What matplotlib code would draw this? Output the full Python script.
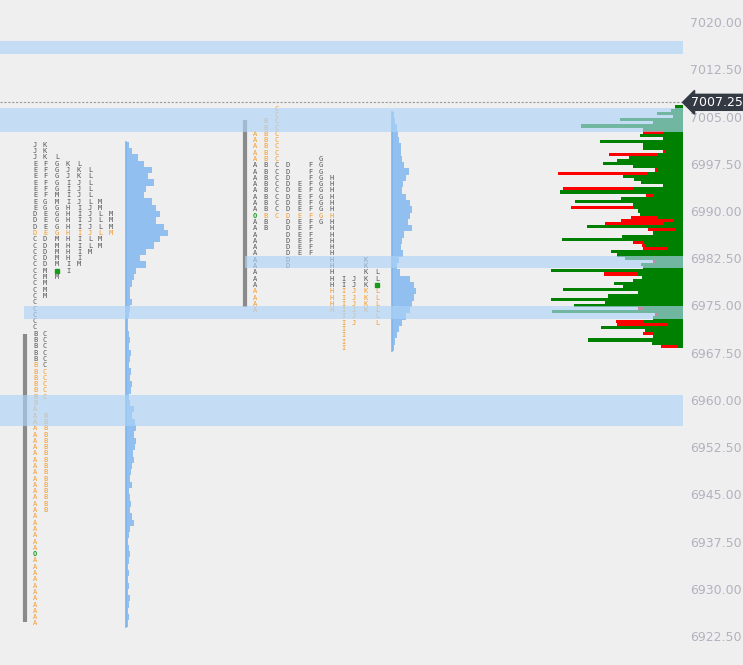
import numpy as np
import matplotlib
matplotlib.use('Agg')
import matplotlib.pyplot as plt

BG = '#efefef'
Y_TOP, Y_BOT = 7023.5, 6917.9
X_MAX = 683
TICKS = [7020.0, 7012.5, 7005.0, 6997.5, 6990.0, 6982.5, 6975.0, 6967.5,
         6960.0, 6952.5, 6945.0, 6937.5, 6930.0, 6922.5]
LAST_PRICE = 7007.25

# highlighted price bands: (low, high, x start)
BANDS = [(7014.9, 7017.0, 0), (7002.5, 7006.35, 0), (6981.0, 6982.9, 245),
         (6972.9, 6974.9, 24), (6955.9, 6960.8, 0)]

# TPO columns (x, first row, letters); lowercase = orange, 'o' = green ring, '*' = green dot
S1_TOP = 7000.5
S1_COLS = [
    (35, 0, "JJJ" + "E" * 8 + "DDD" + "d" + "C" * 15 + "B" * 5 + "b" * 7 + "a" * 23 + "o" + "a" * 11),
    (45, 0, "KKKFFFFFFGGEEEeDDDDDMMMMM" + "     " + "CCCCCC" + "ccccc" + "  " + "b" * 16),
    (57, 2, "LGGGGGMMGGGG" + "g" + "MMMMM*M"),
    (68, 3, "KJJIIIIHHHH" + "h" + "HHHHII"),
    (79, 3, "LKKJJJJIIII" + "i" + "IIIIM"),
    (90, 4, "LLLLLLJJJJ" + "j" + "LLM"),
    (100, 9, "MMLLL" + "l" + "MM"),
    (111, 11, "MMM" + "m"),
]
S2_TOP = 7006.25
S2_COLS = [
    (255, 4, "aaaaa" + "A" * 8 + "o" + "A" * 11 + "aaaa"),
    (266, 2, "bbbbbbb" + "B" * 8 + "b" + "BB"),
    (277, 0, "c" * 9 + "C" * 8 + "c"),
    (288, 9, "D" * 8 + "d" + "D" * 8),
    (299, 12, "E" * 5 + "e" + "E" * 6),
    (310, 9, "F" * 8 + "f" + "F" * 6),
    (321, 8, "G" * 9 + "g" + "G"),
    (332, 11, "H" * 6 + "h" + "H" * 11 + "hhhh"),
    (343, 27, "II" + "i" * 10),
    (354, 27, "JJ" + "j" * 6),
    (366, 24, "K" * 5 + "kkkk"),
    (377, 26, "LL*" + "l" * 6),
]

# session range bars (x, low, high)
RANGE_BARS = [(25, 6924.8, 6970.5), (245, 6974.7, 7004.4)]

# session profiles (1-point rows, widths in px)
S1_PROF_X = 126
S1_PROF = [3, 6, 12, 18, 26, 22, 28, 20, 18, 26, 30, 34, 30, 38, 42, 34, 28, 20, 14, 20,
           10, 8, 6, 4, 4, 6, 4, 3, 2,
           2, 3, 4, 3, 5, 4, 3, 5, 4, 6, 5, 3, 4, 8, 6, 9, 10, 8, 10, 9, 7, 8, 6, 5, 4,
           6, 3, 4, 5, 4, 6, 8, 4, 3, 2, 3, 4, 3, 2, 3, 2, 3, 2, 4, 3, 2, 3, 2]
S2_PROF_X = 392
S2_PROF_TOP = 7005.25
S2_PROF = [2, 3, 5, 6, 7, 9, 9, 10, 12, 17, 14, 11, 10, 14, 18, 20, 18, 16, 20, 12,
           10, 9, 11, 7, 5, 8, 18, 22, 24, 22, 20, 18, 14, 10, 7, 5, 3, 2]

# volume profile on the right (0.5-point rows from top): long bar length/colour
VP_TOP = 7006.5
VP_LEN = [8, 12, 26, 10, 63, 30, 102, 40, 40, 43, 20, 83, 40, 40, 20, 74, 54, 66, 80, 50,
          28, 125, 60, 49, 42, 20, 120, 123, 37, 62, 108, 50, 112, 45, 43, 52, 62, 78, 96, 35,
          30, 61, 121, 50, 41, 40, 72, 66, 58, 30, 42, 40, 132, 79, 41, 50, 69, 60, 120, 45,
          75, 132, 78, 109, 45, 131, 28, 30, 67, 66, 82, 38, 40, 30, 95, 31, 22]
VP_COL = ("gggggggg" "rggggg" "rrggggrrggggrgrgggrg" "grrrgrgggrrrgggrgggrggggggggggrgrgrrggrgg" "gr")
# green part near the base of the red rows
VP_GREEN = [6, 10, 20, 8, 25, 28, 35, 30, 20, 30, 18, 45, 30, 35, 18, 25, 35, 45, 40, 35,
            25, 35, 40, 40, 35, 18, 50, 30, 30, 20, 45, 40, 50, 15, 38, 25, 10, 20, 45, 8,
            28, 45, 20, 40, 38, 15, 10, 12, 40, 28, 0, 38, 45, 45, 20, 45, 40, 45, 50, 40,
            45, 50, 45, 50, 40, 0, 25, 18, 40, 15, 10, 35, 30, 10, 40, 28, 5]

fig = plt.figure(figsize=(7.43, 6.65), dpi=100)
fig.patch.set_facecolor(BG)
ax = fig.add_axes([0, 0, X_MAX / 743, 1])
ax.set_facecolor(BG)
ax.set_xlim(0, X_MAX)
ax.set_ylim(Y_BOT, Y_TOP)
for s in ax.spines.values():
    s.set_visible(False)
ax.set_xticks([])
ax.yaxis.tick_right()
ax.set_yticks(TICKS)
ax.set_yticklabels([f"{t:.2f}" for t in TICKS])
ax.tick_params(axis='y', length=0, pad=5, labelsize=9, labelcolor='#b2b2c0')

ax.axhline(LAST_PRICE, color='#999999', lw=0.8, ls=(0, (2, 1.5)), zorder=1)


def draw_tpo(cols, top):
    for x, r0, s in cols:
        for k, ch in enumerate(s):
            if ch == ' ':
                continue
            y = top - (r0 + k)
            if ch == '*':
                ax.plot(x, y, 's', ms=3, color='#1a9a1a', zorder=3)
            elif ch == 'o':
                ax.text(x, y, 'O', fontsize=5, color='#1a9a1a', ha='center', va='center',
                        family='DejaVu Sans Mono', fontweight='bold', zorder=3)
            else:
                c = '#f39a2c' if ch.islower() else '#555555'
                ax.text(x, y, ch.upper(), fontsize=5, color=c, ha='center', va='center',
                        family='DejaVu Sans Mono', zorder=3)


draw_tpo(S1_COLS, S1_TOP)
draw_tpo(S2_COLS, S2_TOP)

for x, lo, hi in RANGE_BARS:
    ax.plot([x, x], [lo, hi], color='#8a8a8a', lw=3, solid_capstyle='butt', zorder=2)

p1 = S1_TOP - np.arange(len(S1_PROF))
ax.barh(p1, S1_PROF, left=S1_PROF_X, height=1.0, color='#90bff0', zorder=2)
ax.plot([S1_PROF_X, S1_PROF_X], [p1[-1] - 0.5, p1[0] + 0.5], color='#80b4ec', lw=1.2, zorder=2)
p2 = S2_PROF_TOP - np.arange(len(S2_PROF))
ax.barh(p2, S2_PROF, left=S2_PROF_X, height=1.0, color='#90bff0', zorder=2)
ax.plot([S2_PROF_X, S2_PROF_X], [p2[-1] - 0.5, p2[0] + 0.5], color='#80b4ec', lw=1.2, zorder=2)

pv = VP_TOP - 0.5 * np.arange(len(VP_LEN))
vl = np.array(VP_LEN)
red = np.array([c == 'r' for c in VP_COL])
vgr = np.array(VP_GREEN + [VP_GREEN[-1]])[:len(vl)]
vg = np.where(red, np.minimum(vgr, vl), np.maximum(vgr, vl))
ax.barh(pv[red], -vl[red], left=X_MAX, height=0.5, color='#ff0000', zorder=2)
ax.barh(pv, -vg, left=X_MAX, height=0.5, color='#008000', zorder=2)

for lo, hi, x0 in BANDS:
    ax.fill_between([x0, X_MAX], lo, hi, color='#aed4f7', alpha=0.65, lw=0, zorder=4)

ax.text(X_MAX + 8, LAST_PRICE, f"{LAST_PRICE:.2f}", fontsize=9, color='white',
        ha='left', va='center', zorder=6, clip_on=False,
        bbox=dict(boxstyle='larrow,pad=0.12', fc='#343a44', ec='#343a44'))

fig.savefig('out.png', dpi=100, facecolor=BG)
